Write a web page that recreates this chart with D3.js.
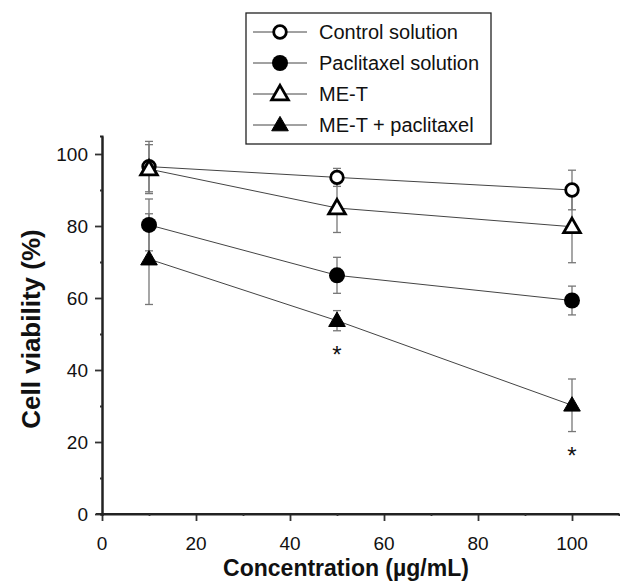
<!DOCTYPE html>
<html>
<head>
<meta charset="utf-8">
<script src="https://cdn.jsdelivr.net/npm/d3@7"></script>
<style>
  html, body { margin: 0; padding: 0; background: #fff; overflow: hidden; }
  svg { display: block; }
</style>
</head>
<body>
<div id="chart"></div>
<script>
const concentrations = [10, 50, 100]
const controlMean = [96.5, 93.5, 90]
const controlErr = [7, 2.5, 5.5]
const paclitaxelMean = [80.3, 66.3, 59.3]
const paclitaxelErr = [7.2, 5, 4]
const meTMean = [95.8, 85, 79.8]
const meTErr = [6.8, 6.8, 10]
const comboMean = [70.8, 53.7, 30.2]
const comboErr = [12.6, 2.8, 7.3]
const starAt = [50, 100]
const xTicks = [0, 20, 40, 60, 80, 100]
const yTicks = [0, 20, 40, 60, 80, 100]

const series = [
    { name: 'Control solution', mean: controlMean, err: controlErr, shape: 'circle', filled: false },
    { name: 'Paclitaxel solution', mean: paclitaxelMean, err: paclitaxelErr, shape: 'circle', filled: true },
    { name: 'ME-T', mean: meTMean, err: meTErr, shape: 'triangle', filled: false },
    { name: 'ME-T + paclitaxel', mean: comboMean, err: comboErr, shape: 'triangle', filled: true }
]

const font = 'Liberation Sans, Arial, sans-serif'
const width = 620, height = 584
const padding = { top: 136, bottom: 70, left: 102, right: 1 }
const innerWidth = width - padding.left - padding.right
const innerHeight = 514 - padding.top

const xScale = d3.scaleLinear().domain([0, 110]).range([0, innerWidth])
const yScale = d3.scaleLinear().domain([0, 105]).range([innerHeight, 0])

const svg = d3.select('#chart').append('svg')
              .attr('width', width)
              .attr('height', height)
              .style('font-family', font)

const graph = svg.append('g')
                 .attr('transform', `translate(${padding.left}, ${padding.top})`)

// axes (lines only, labels drawn below)
const xAxis = graph.append('g')
                   .attr('transform', `translate(0, ${innerHeight})`)
                   .call(d3.axisBottom(xScale).tickValues(xTicks).tickSize(7).tickSizeOuter(0).tickFormat(''))
graph.append('g')
     .call(d3.axisLeft(yScale).tickValues(yTicks).tickSize(7).tickSizeOuter(0).tickFormat(''))

// minor ticks
graph.append('g')
     .attr('transform', `translate(0, ${innerHeight})`)
     .call(d3.axisBottom(xScale).tickValues(d3.range(10, 110, 20)).tickSize(2).tickFormat(''))
graph.append('g')
     .call(d3.axisLeft(yScale).tickValues(d3.range(10, 105, 20)).tickSize(2).tickFormat(''))

graph.selectAll('.tick text').remove()
graph.selectAll('.domain').attr('stroke', '#222').attr('stroke-width', 2)
graph.selectAll('.tick line').attr('stroke', '#333').attr('stroke-width', 1.8)
xAxis.select('.domain').attr('d', `M-6,0H${innerWidth}`)

// tick labels
graph.append('g').selectAll('text')
     .data(xTicks)
     .join('text')
     .text(d => d)
     .attr('text-anchor', 'middle')
     .attr('x', d => xScale(d))
     .attr('y', innerHeight + 36)
     .style('font-size', '19px')
     .style('fill', '#111')

graph.append('g').selectAll('text')
     .data(yTicks)
     .join('text')
     .text(d => d)
     .attr('text-anchor', 'end')
     .attr('x', -14)
     .attr('y', d => yScale(d) + 7)
     .style('font-size', '19px')
     .style('fill', '#111')

// axis titles
svg.append('text')
   .text('Concentration (µg/mL)')
   .attr('text-anchor', 'middle')
   .attr('x', 346)
   .attr('y', 576)
   .style('font-size', '23px')
   .style('font-weight', '700')
   .style('fill', '#111')

svg.append('text')
   .text('Cell viability (%)')
   .attr('text-anchor', 'middle')
   .attr('transform', 'translate(40, 329) rotate(-90)')
   .style('font-size', '26px')
   .style('font-weight', '700')
   .style('fill', '#111')

const triangle = d3.symbol().type(d3.symbolTriangle).size(120)

const drawMarker = (sel, s) => {
    if (s.shape === 'circle') {
        sel.append('circle')
           .attr('r', s.filled ? 8 : 6.3)
           .attr('fill', s.filled ? '#000' : '#fff')
           .attr('stroke', '#000')
           .attr('stroke-width', s.filled ? 0 : 2.8)
    } else {
        sel.append('path')
           .attr('d', triangle())
           .attr('transform', 'translate(0, 1)')
           .attr('fill', s.filled ? '#000' : '#fff')
           .attr('stroke', '#000')
           .attr('stroke-width', s.filled ? 1 : 2.8)
           .attr('stroke-linejoin', 'miter')
    }
}

// error bars
series.forEach(s => {
    const eb = graph.append('g').attr('stroke', '#777').attr('stroke-width', 1.3)
    concentrations.forEach((c, i) => {
        const x = xScale(c)
        const y0 = yScale(s.mean[i] - s.err[i]), y1 = yScale(s.mean[i] + s.err[i])
        eb.append('line').attr('x1', x).attr('x2', x).attr('y1', y0).attr('y2', y1)
        eb.append('line').attr('x1', x - 4).attr('x2', x + 4).attr('y1', y0).attr('y2', y0)
        eb.append('line').attr('x1', x - 4).attr('x2', x + 4).attr('y1', y1).attr('y2', y1)
    })
})

// lines
const line = d3.line()
               .x((d, i) => xScale(concentrations[i]))
               .y(d => yScale(d))

series.forEach(s => {
    graph.append('path')
         .datum(s.mean)
         .attr('d', line)
         .attr('fill', 'none')
         .attr('stroke', '#444')
         .attr('stroke-width', 1)
})

// markers
series.forEach(s => {
    concentrations.forEach((c, i) => {
        const g = graph.append('g').attr('transform', `translate(${xScale(c)}, ${yScale(s.mean[i])})`)
        drawMarker(g, s)
    })
})

// significance stars
const combo = series[3]
starAt.forEach(c => {
    const i = concentrations.indexOf(c)
    graph.append('text')
         .text('*')
         .attr('text-anchor', 'middle')
         .attr('x', xScale(c))
         .attr('y', yScale(combo.mean[i] - combo.err[i]) + 32)
         .style('font-size', '24px')
         .style('fill', '#111')
})

// legend
const legend = svg.append('g').attr('transform', 'translate(246, 13)')
legend.append('rect')
      .attr('width', 245)
      .attr('height', 131)
      .attr('fill', '#fff')
      .attr('stroke', '#222')
      .attr('stroke-width', 1.3)

series.forEach((s, i) => {
    const row = legend.append('g').attr('transform', `translate(0, ${19 + i * 31})`)
    row.append('line')
       .attr('x1', 7).attr('x2', 61)
       .attr('stroke', '#444').attr('stroke-width', 1)
    const m = row.append('g').attr('transform', 'translate(34, 0)')
    drawMarker(m, s)
    row.append('text')
       .text(s.name)
       .attr('x', 73)
       .attr('y', 7)
       .style('font-size', '20px')
       .style('fill', '#111')
})
</script>
</body>
</html>
